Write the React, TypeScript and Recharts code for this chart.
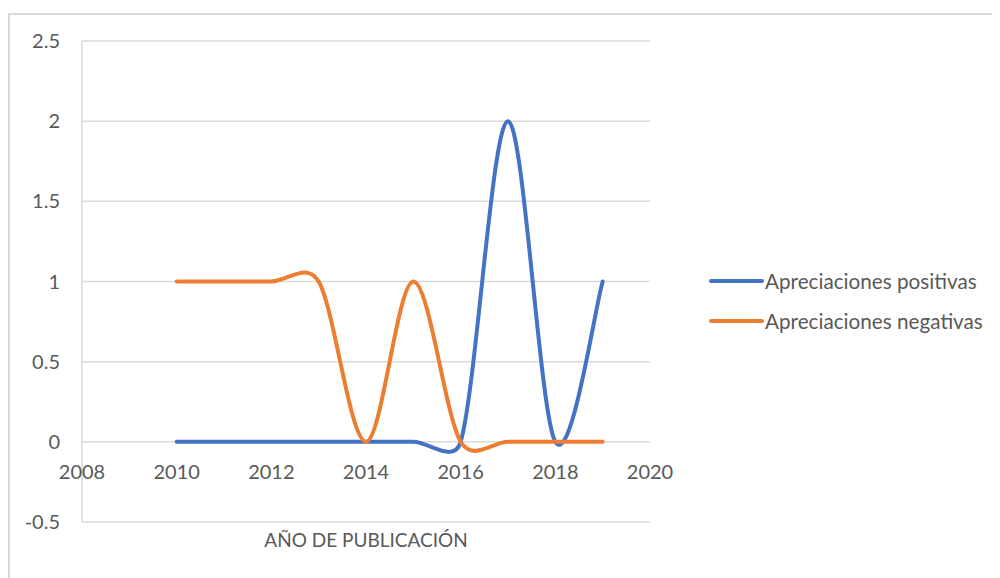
import React from 'react';
import { LineChart, Line, XAxis, YAxis, CartesianGrid, Legend, ReferenceDot, Label } from 'recharts';

const YEARS = [2010, 2011, 2012, 2013, 2014, 2015, 2016, 2017, 2018, 2019];
const POSITIVAS = [0, 0, 0, 0, 0, 0, 0, 2, 0, 1];
const NEGATIVAS = [1, 1, 1, 1, 0, 1, 0, 0, 0, 0];
const X_TICKS = [2008, 2010, 2012, 2014, 2016, 2018, 2020];
const Y_TICKS = [-0.5, 0, 0.5, 1, 1.5, 2, 2.5];
const SERIES_POS = 'Apreciaciones positivas';
const SERIES_NEG = 'Apreciaciones negativas';
const SERIES_ORDER = [SERIES_POS, SERIES_NEG];
const X_TITLE = 'AÑO DE PUBLICACIÓN';

const data = YEARS.map((y, i) => ({ year: y, pos: POSITIVAS[i], neg: NEGATIVAS[i] }));

const BLUE = '#4472C4';
const ORANGE = '#ED7D31';
const TEXT = '#595959';
const GRID = '#d9d9d9';
const FONT = 'Lato, "Open Sans", sans-serif';
const LEGEND_W = 290;

// Excel-like smoothed curve: Catmull-Rom (1/6) control points, clamped to half the segment length
function excelCurve(context: any) {
  let pts: number[][] = [];
  const F = 1 / 6;
  const dist = (a: number[], b: number[]) => Math.hypot(b[0] - a[0], b[1] - a[1]);
  const ctrl = (vx: number, vy: number, seg: number) => {
    let cx = vx * F, cy = vy * F;
    const len = Math.hypot(cx, cy);
    const lim = seg / 2;
    if (len > lim && len > 0) { cx *= lim / len; cy *= lim / len; }
    return [cx, cy];
  };
  return {
    areaStart() {},
    areaEnd() {},
    lineStart() { pts = []; },
    point(x: number, y: number) { pts.push([+x, +y]); },
    lineEnd() {
      const n = pts.length;
      if (!n) return;
      context.moveTo(pts[0][0], pts[0][1]);
      for (let i = 0; i < n - 1; i++) {
        const p0 = pts[i - 1] || pts[i];
        const p1 = pts[i];
        const p2 = pts[i + 1];
        const p3 = pts[i + 2] || pts[i + 1];
        const seg = dist(p1, p2);
        const a = ctrl(p2[0] - p0[0], p2[1] - p0[1], seg);
        const b = ctrl(p3[0] - p1[0], p3[1] - p1[1], seg);
        context.bezierCurveTo(p1[0] + a[0], p1[1] + a[1], p2[0] - b[0], p2[1] - b[1], p2[0], p2[1]);
      }
    },
  };
}

const LegendContent = (props: any) => {
  const items = [...(props.payload || [])].sort(
    (a: any, b: any) => SERIES_ORDER.indexOf(a.value) - SERIES_ORDER.indexOf(b.value)
  );
  return (
    <div style={{ fontFamily: FONT, width: LEGEND_W }}>
      {items.map((e: any, i: number) => (
        <div key={i} style={{ display: 'flex', alignItems: 'center', height: 40 }}>
          <svg width={55} height={8} style={{ display: 'block' }}>
            <line x1={2} y1={4} x2={53} y2={4} stroke={e.color} strokeWidth={4} strokeLinecap="round" />
          </svg>
          <span style={{ fontSize: 20.7, color: TEXT, marginLeft: 1, whiteSpace: 'nowrap' }}>{e.value}</span>
        </div>
      ))}
    </div>
  );
};

export default function App() {
  return (
    <div style={{ paddingTop: 5 }}>
      <div
        style={{
          width: 992,
          height: 565,
          boxSizing: 'border-box',
          borderTop: `2px solid ${GRID}`,
          borderLeft: `2px solid ${GRID}`,
          fontFamily: FONT,
        }}
      >
        <LineChart width={988} height={560} data={data} margin={{ top: 26, right: 348 - LEGEND_W, bottom: 13, left: 0 }}>
          <CartesianGrid vertical={false} stroke={GRID} strokeWidth={1.5} />
          <XAxis
            dataKey="year"
            type="number"
            domain={[2008, 2020]}
            ticks={X_TICKS}
            tick={false}
            axisLine={false}
            tickLine={false}
            height={40}
          >
            <Label value={X_TITLE} position="insideTop" offset={12} fill={TEXT} fontSize={19} fontFamily={FONT} />
          </XAxis>
          <YAxis
            type="number"
            domain={[-0.5, 2.5]}
            ticks={Y_TICKS}
            width={72}
            axisLine={{ stroke: GRID, strokeWidth: 1.5 }}
            tickLine={false}
            tickSize={0}
            tickMargin={22}
            tick={{ fill: TEXT, fontSize: 20, fontFamily: FONT }}
          />
          {X_TICKS.map((t) => (
            <ReferenceDot
              key={t}
              x={t}
              y={0}
              r={0}
              fill="none"
              stroke="none"
              label={{ value: String(t), position: 'bottom', offset: 23, fill: TEXT, fontSize: 20, fontFamily: FONT }}
            />
          ))}
          <Line
            dataKey="pos"
            name={SERIES_POS}
            stroke={BLUE}
            strokeWidth={4}
            strokeLinecap="round"
            dot={false}
            type={excelCurve as any}
            isAnimationActive={false}
          />
          <Line
            dataKey="neg"
            name={SERIES_NEG}
            stroke={ORANGE}
            strokeWidth={4}
            strokeLinecap="round"
            dot={false}
            type={excelCurve as any}
            isAnimationActive={false}
          />
          <Legend
            layout="vertical"
            align="right"
            verticalAlign="middle"
            itemSorter={null as any}
            content={<LegendContent />}
            wrapperStyle={{ left: 699, top: 246, width: LEGEND_W }}
          />
        </LineChart>
      </div>
    </div>
  );
}
